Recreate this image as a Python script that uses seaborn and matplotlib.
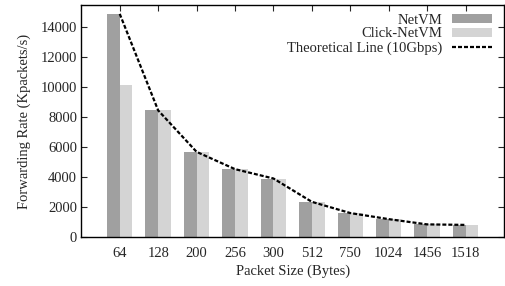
import matplotlib
matplotlib.use('Agg')
import matplotlib.pyplot as plt
import seaborn as sns
import numpy as np
import pandas as pd
from matplotlib.patches import Patch
from matplotlib.lines import Line2D

# packet sizes and measured forwarding rates (Kpackets/s)
sizes = ['64', '128', '200', '256', '300', '512', '750', '1024', '1456', '1518']
netvm = [14880, 8445, 5680, 4528, 3900, 2349, 1602, 1197, 847, 812]
click_netvm = [10150, 8445, 5680, 4528, 3900, 2349, 1602, 1197, 847, 812]
theory = [14880, 8446, 5682, 4529, 3906, 2350, 1603, 1197, 847, 813]

series_names = ['NetVM', 'Click-NetVM']
colors = ['#a0a0a0', '#d4d4d4']

df = pd.DataFrame({
    'size': sizes * 2,
    'rate': netvm + click_netvm,
    'system': [series_names[0]] * len(sizes) + [series_names[1]] * len(sizes),
})

sns.set_style('ticks')
plt.rcParams['font.family'] = ['Liberation Serif', 'DejaVu Serif']
fs = 10.5

fig = plt.figure(figsize=(5.05, 2.86), dpi=100)
ax = fig.add_axes([0.161, 0.171, 0.837, 0.8115])

sns.barplot(data=df, x='size', y='rate', hue='system', order=sizes,
            hue_order=series_names, palette=colors, width=0.66,
            saturation=1, edgecolor='none', ax=ax, legend=False)

# theoretical line through bar centres
sns.lineplot(x=np.arange(len(sizes)), y=theory, color='black',
             linewidth=1.6, linestyle=(0, (1.8, 0.9)), ax=ax, legend=False)

ax.set_xlim(-1, 10)
ax.set_ylim(0, 15470)
ax.set_yticks(range(0, 14001, 2000))
ax.set_xlabel('Packet Size (Bytes)', fontsize=fs)
ax.set_ylabel('Forwarding Rate (Kpackets/s)', fontsize=fs)
ax.xaxis.set_label_coords(0.5, -0.12)
ax.yaxis.set_label_coords(-0.118, 0.5)
ax.tick_params(direction='in', length=4, width=0.8, labelsize=fs,
               top=True, right=True)
ax.tick_params(axis='x', pad=7)
ax.tick_params(axis='y', pad=3)
for s in ax.spines.values():
    s.set_visible(True)
    s.set_linewidth(1.0)
    s.set_color('black')

handles = [Patch(facecolor=colors[0], edgecolor='none'),
           Patch(facecolor=colors[1], edgecolor='none'),
           Line2D([0], [0], color='black', linewidth=1.6, linestyle=(0, (1.8, 0.9)))]
labels = ['NetVM', 'Click-NetVM', 'Theoretical Line (10Gbps)']
ax.legend(handles, labels, loc='upper right', frameon=False, markerfirst=False,
          fontsize=fs, handlelength=2.7, handleheight=0.55, labelspacing=0.05,
          handletextpad=0.7, borderaxespad=0.2, bbox_to_anchor=(0.992, 1.0))
for t in ax.get_legend().get_texts():
    t.set_ha('right')

fig.savefig('out.png', dpi=100)
